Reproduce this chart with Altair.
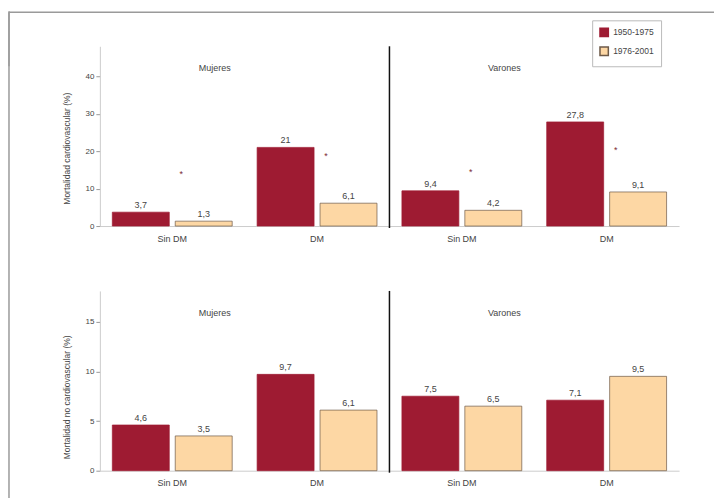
import altair as alt
import pandas as pd

# ---- data ----
sexes = ["Mujeres", "Mujeres", "Varones", "Varones"]
dm_status = ["Sin DM", "DM", "Sin DM", "DM"]
periods = ["1950-1975", "1976-2001"]

cv_1950 = [3.7, 21.0, 9.4, 27.8]
cv_1976 = [1.3, 6.1, 4.2, 9.1]
ncv_1950 = [4.6, 9.7, 7.5, 7.1]
ncv_1976 = [3.5, 6.1, 6.5, 9.5]

# significance markers (top panel only), height in % units
sig_marks = ["*", "*", "*", "*"]
sig_values = [13.9, 18.7, 14.4, 20.3]

panel_titles = ["Mujeres", "Varones"]
y_titles = ["Mortalidad cardiovascular (%)", "Mortalidad no cardiovascular (%)"]
y_ticks_top = [0, 10, 20, 30, 40]
y_ticks_bottom = [0, 5, 10, 15]

RED = "#9e1b32"
PEACH = "#fdd7a4"
FONT = "Liberation Sans"
TXT = "#444444"
FRAME = "#9a9a9a"

groups = [f"{s}|{d}" for s, d in zip(sexes, dm_status)]


def fmt(v):
    return f"{v:g}".replace(".", ",")


def make_df(a, b):
    rows = []
    for g, va, vb in zip(groups, a, b):
        rows.append({"grp": g, "period": periods[0], "value": va, "label": fmt(va)})
        rows.append({"grp": g, "period": periods[1], "value": vb, "label": fmt(vb)})
    return pd.DataFrame(rows)


df_top = make_df(cv_1950, cv_1976)
df_bot = make_df(ncv_1950, ncv_1976)
df_sig = pd.DataFrame({"grp": groups, "value": sig_values, "mark": sig_marks})

xscale = alt.Scale(domain=groups, paddingInner=0, paddingOuter=0)
xoff_scale = alt.Scale(domain=periods, paddingInner=0.095, paddingOuter=0.198)


def panel(df, ymax, yticks, ytitle, title_y, legend, sig=None, frame_top=False, frame_left=None):
    W, H = 580, 180
    yscale = alt.Scale(domain=[0, ymax], nice=False)
    x = alt.X("grp:N", scale=xscale, sort=groups, title=None,
              axis=alt.Axis(labelExpr="split(datum.label, '|')[1]", ticks=False,
                            domainColor="#cccccc", labelFontSize=9, labelColor=TXT,
                            labelFont=FONT, labelPadding=8, labelAngle=0))
    y = alt.Y("value:Q", scale=yscale, title=ytitle,
              axis=alt.Axis(values=yticks, grid=False, tickColor="#999999", tickSize=4,
                            domainColor="#cccccc", labelFontSize=8, labelColor=TXT,
                            labelFont=FONT, titleFont=FONT, titleFontSize=8.5,
                            titleFontWeight="normal", titleColor=TXT, titlePadding=14,
                            titleY=title_y))
    leg = alt.Legend(title=None, orient="none", legendX=493, legendY=-26,
                     strokeColor="#bbbbbb", padding=7, symbolType="square",
                     symbolSize=70, labelFontSize=8.5, labelFont=FONT, labelColor=TXT,
                     rowPadding=3, fillColor="white") if legend else None
    color = alt.Color("period:N", scale=alt.Scale(domain=periods, range=[RED, PEACH]),
                      legend=leg)
    stroke = alt.Stroke("period:N", scale=alt.Scale(domain=periods, range=[RED, "#6d5a48"]),
                        legend=leg)
    bars = alt.Chart(df).mark_bar(strokeWidth=0.7).encode(
        x=x, xOffset=alt.XOffset("period:N", scale=xoff_scale, sort=periods),
        y=y, color=color, stroke=stroke)
    labels = alt.Chart(df).mark_text(dy=-7, fontSize=9, font=FONT, color=TXT).encode(
        x=alt.X("grp:N", scale=xscale, sort=groups),
        xOffset=alt.XOffset("period:N", scale=xoff_scale, sort=periods),
        y=alt.Y("value:Q", scale=yscale), text="label:N")
    divider = alt.Chart(pd.DataFrame({"grp": [groups[1]]})).mark_rule(
        color="#111111", strokeWidth=1.5).encode(
        x=alt.X("grp:N", scale=xscale, sort=groups, bandPosition=1),
        y=alt.value(0), y2=alt.value(H + 2))
    titles = alt.Chart(pd.DataFrame({"grp": [groups[0], groups[2]], "t": panel_titles})).mark_text(
        fontSize=9, font=FONT, color=TXT, dx=-30).encode(
        x=alt.X("grp:N", scale=xscale, sort=groups, bandPosition=1),
        y=alt.value(22), text="t:N")
    layers = [bars, labels, divider, titles]
    if sig is not None:
        sig_layer = alt.Chart(sig).mark_text(fontSize=9, font=FONT, color="#7a2a34", dx=9).encode(
            x=alt.X("grp:N", scale=xscale, sort=groups),
            y=alt.Y("value:Q", scale=yscale), text="mark:N")
        layers.append(sig_layer)
    if frame_top:
        layers.append(alt.Chart(pd.DataFrame({"a": [0]})).mark_rule(
            color=FRAME, strokeWidth=1.5).encode(
            x=alt.value(-91), x2=alt.value(615), y=alt.value(-34)))
    if frame_left is not None:
        layers.append(alt.Chart(pd.DataFrame({"a": [0]})).mark_rule(
            color=FRAME, strokeWidth=1.5).encode(
            x=alt.value(-91), y=alt.value(frame_left[0]), y2=alt.value(frame_left[1])))
    return alt.layer(*layers).properties(width=W, height=H)


top = panel(df_top, 48, y_ticks_top, y_titles[0], 102, True, sig=df_sig,
            frame_top=True, frame_left=(-34, 20))
bottom = panel(df_bot, 18.1, y_ticks_bottom, y_titles[1], 106, False,
               frame_left=(-280, 208))

chart = alt.vconcat(top, bottom, spacing=65, bounds="flush").properties(
    padding={"left": 8, "top": 10, "right": 0, "bottom": 0}
).configure_view(stroke=None).resolve_scale(color="independent", stroke="independent")

chart.save("out.html", embed_options={"renderer": "svg", "actions": False})
